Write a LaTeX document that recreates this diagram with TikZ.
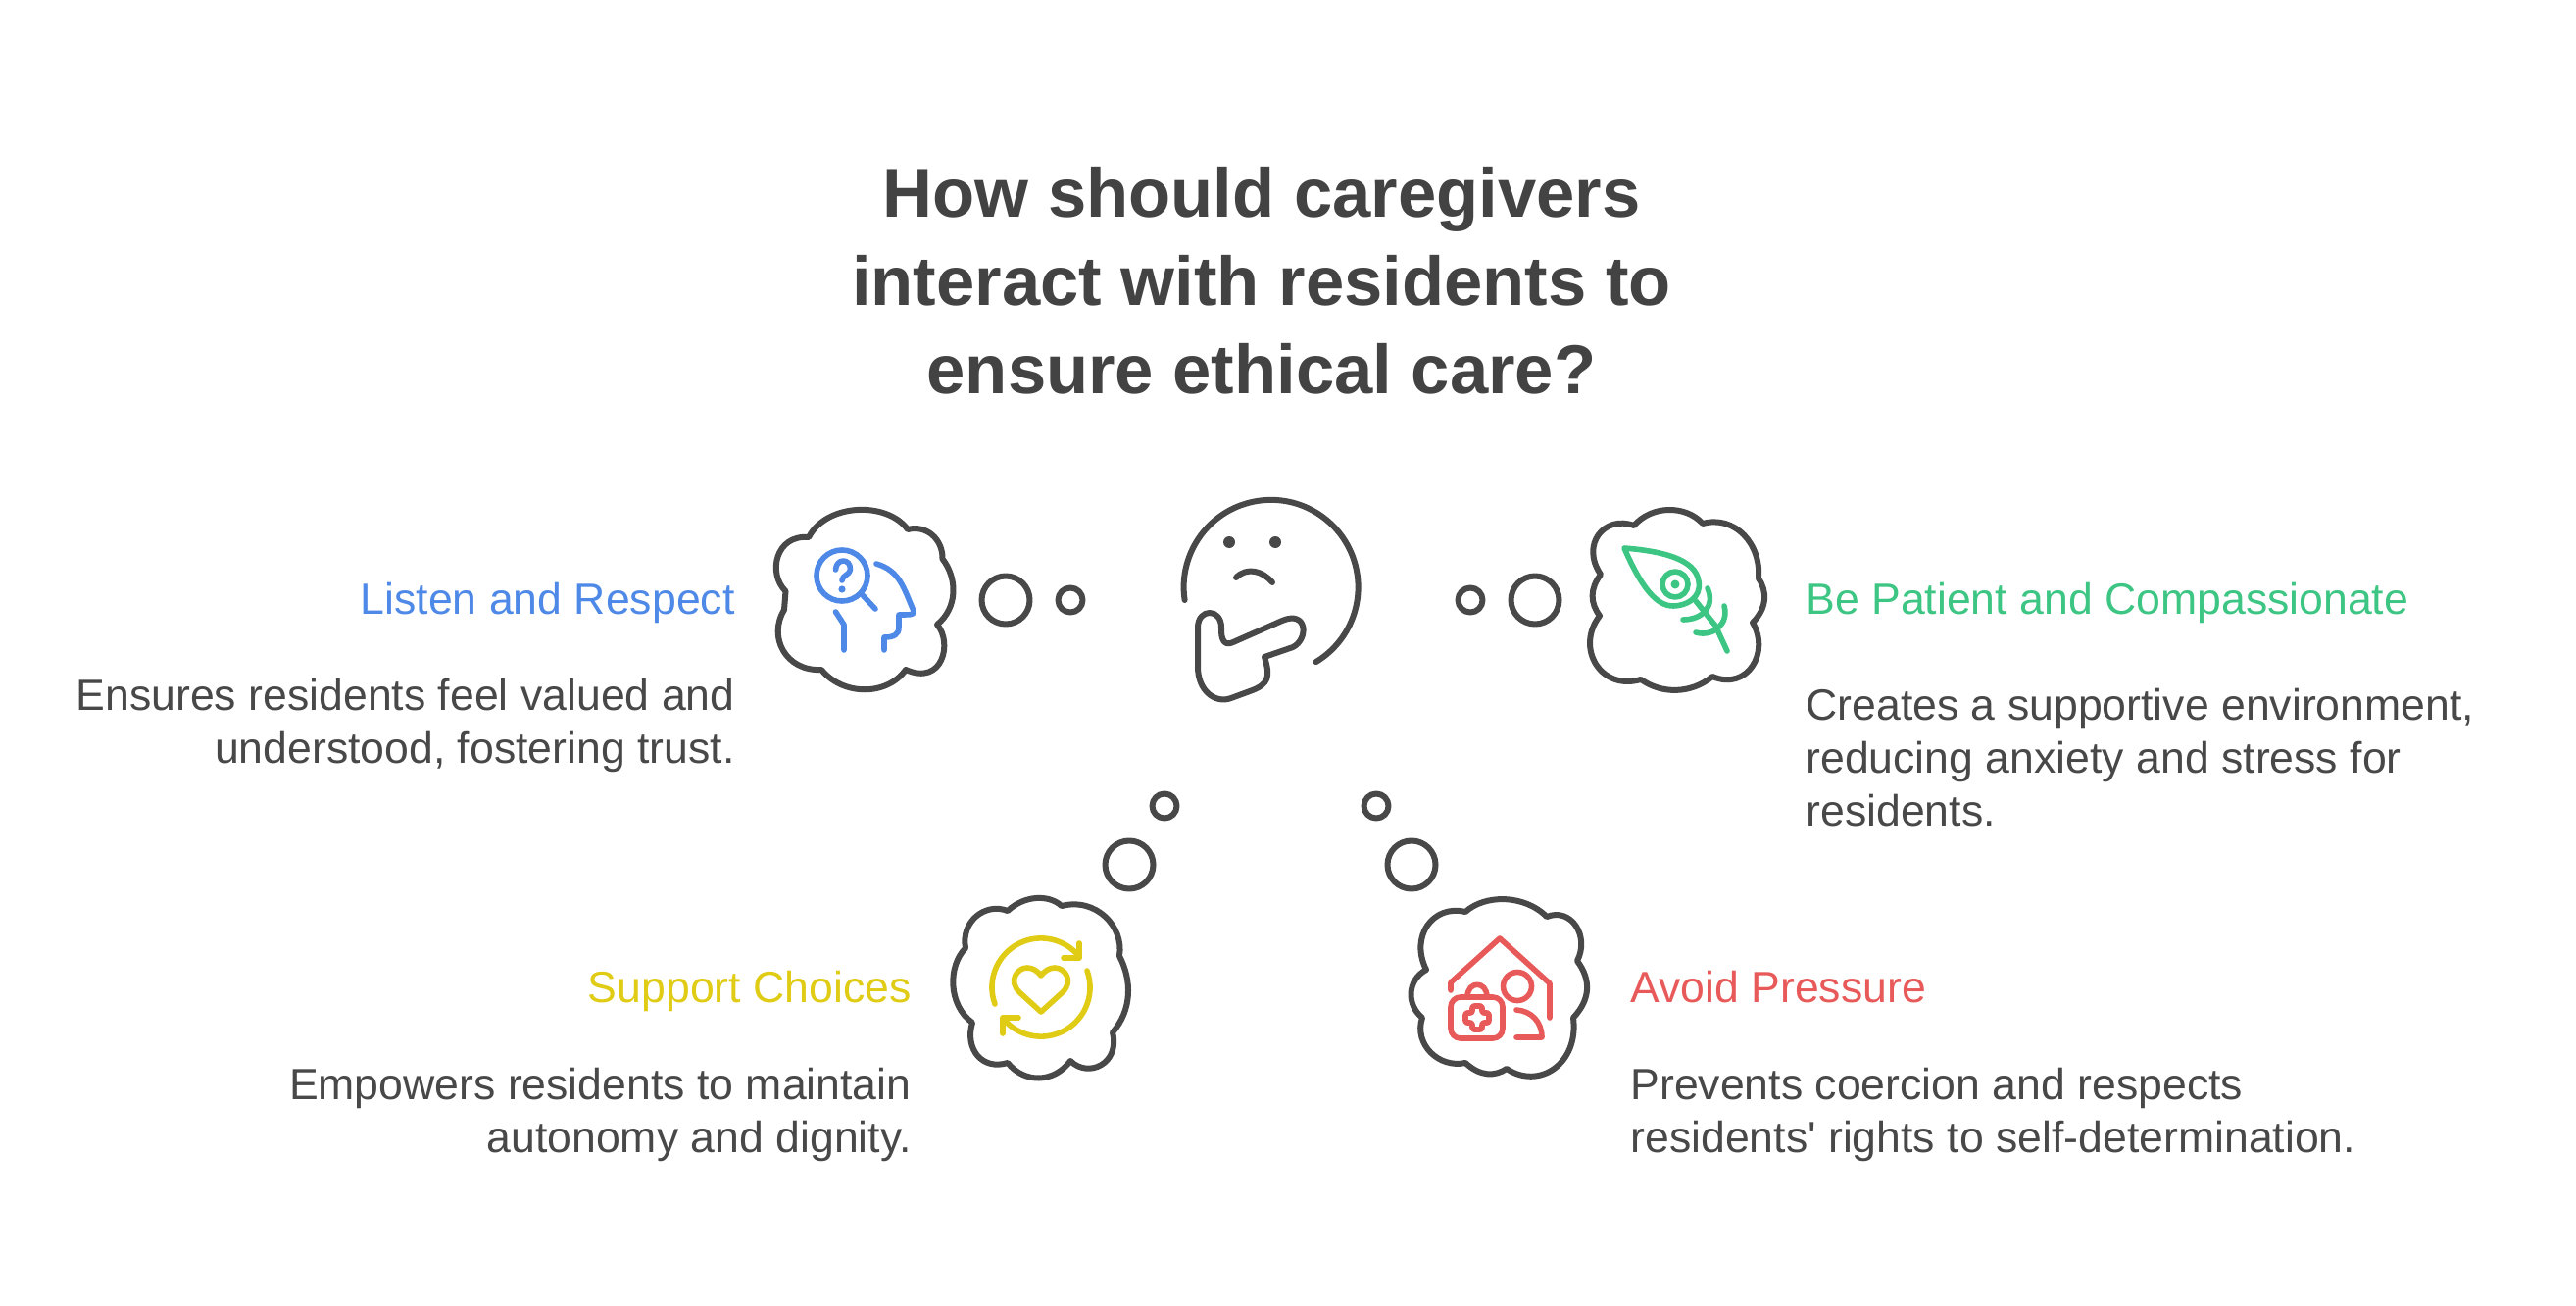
\documentclass[tikz,border=0pt]{standalone}
\usepackage{fontspec}
\setmainfont{Liberation Sans}[Ligatures=TeXOff]

\begin{document}
\begin{tikzpicture}[x=0.5pt,y=-0.5pt,
        outline/.style={line width=3pt,draw=darkgray,line join=round,line cap=round},
        iconline/.style={line width=2.8pt,line join=round,line cap=round},
        titletext/.style={align=center,inner sep=0pt,text=titlegray,font=\fontsize{35.3}{45}\selectfont\bfseries},
        headtext/.style={inner sep=0pt,font=\fontsize{22.3}{27}\selectfont},
        bodytext/.style={inner sep=0pt,text=darkgray,font=\fontsize{22.3}{27}\selectfont}]
        \definecolor{darkgray}{HTML}{484848}
        \definecolor{titlegray}{HTML}{434343}
        \definecolor{iconblue}{HTML}{4E89E8}
        \definecolor{icongreen}{HTML}{3CC583}
        \definecolor{iconyellow}{HTML}{E0CB15}
        \definecolor{iconred}{HTML}{E85A5A}

        \useasboundingbox (0,0) rectangle (2628,1332);

        \node[titletext,anchor=north] (title) at (1287,170) {How should caregivers\\interact with residents to\\ensure ethical care?};

        \node[headtext,anchor=base east,text=iconblue] (listenhead) at (750,626) {Listen and Respect};
        \node[bodytext,anchor=north east,align=right] (listenbody) at (750,692) {Ensures residents feel valued and\\understood, fostering trust.};
        \node[headtext,anchor=base west,text=icongreen] (patienthead) at (1842,626) {Be Patient and Compassionate};
        \node[bodytext,anchor=north west,align=left] (patientbody) at (1842,702) {Creates a supportive environment,\\reducing anxiety and stress for\\residents.};
        \node[headtext,anchor=base east,text=iconyellow] (supporthead) at (930,1022) {Support Choices};
        \node[bodytext,anchor=north east,align=right] (supportbody) at (930,1089) {Empowers residents to maintain\\autonomy and dignity.};
        \node[headtext,anchor=base west,text=iconred] (avoidhead) at (1663,1022) {Avoid Pressure};
        \node[bodytext,anchor=north west,align=left] (avoidbody) at (1663,1089) {Prevents coercion and respects\\residents' rights to self-determination.};

        %face
        \draw[outline] (1208.6,612) arc[start angle=188.5,end angle=-59,radius=44.5pt];
        \fill[darkgray] (1254,553) circle (3pt);
        \fill[darkgray] (1301,553) circle (3pt);
        \draw[outline] (1261,589) .. controls (1272,578) and (1288,582) .. (1298,594);
        \draw[outline] (1290,670) -- (1319,660) .. controls (1335,652) and (1334,622) .. (1308,633)
            -- (1258,655) .. controls (1248,660) and (1246,650) .. (1246,643) -- (1246,640)
            .. controls (1246,620) and (1222,620) .. (1222,640) -- (1222,680)
            .. controls (1222,705) and (1240,718) .. (1256,712) -- (1275,705)
            .. controls (1295,698) and (1296,690) .. (1290,670) -- cycle;

        %bubbles
        \draw[outline] (1026,612) circle (12.25pt);
        \draw[outline] (1092,612) circle (6.25pt);
        \draw[outline] (1500,612) circle (6.25pt);
        \draw[outline] (1566,612) circle (12.25pt);
        \draw[outline] (1188,822) circle (6.25pt);
        \draw[outline] (1152,882) circle (12.25pt);
        \draw[outline] (1404,822) circle (6.25pt);
        \draw[outline] (1440,882) circle (12.25pt);

        %clouds
        \draw[outline] (825,548) .. controls (843,513) and (905,511) .. (926,540)
            .. controls (945,535) and (962,550) .. (961.5,570)
            .. controls (977,590) and (977,620) .. (956,637)
            .. controls (972,655) and (962,700) .. (924,683)
            .. controls (905,710) and (860,710) .. (838,683)
            .. controls (802,685) and (783,650) .. (800,622)
            -- (801.5,603)
            .. controls (783,585) and (791,545) .. (825,548) -- cycle;
        \draw[outline] (1667,536) .. controls (1685,515) and (1720,515) .. (1737,534)
            .. controls (1770,525) and (1797,555) .. (1794,590)
            .. controls (1803,603) and (1803,620) .. (1788,635)
            .. controls (1806,665) and (1783,705) .. (1747,690)
            .. controls (1725,708) and (1695,708) .. (1674,693)
            .. controls (1632,705) and (1607,660) .. (1632,628)
            .. controls (1622,615) and (1622,600) .. (1633,586)
            .. controls (1612,555) and (1637,525) .. (1667,536) -- cycle;
        \draw[outline] (1028,929) .. controls (1045,913) and (1070,912) .. (1083,924)
            .. controls (1118,915) and (1147,945) .. (1142,975)
            .. controls (1155,1000) and (1155,1030) .. (1135,1053)
            .. controls (1143,1085) and (1110,1100) .. (1092,1082)
            .. controls (1075,1105) and (1045,1105) .. (1028,1084)
            .. controls (1002,1092) and (984,1070) .. (992,1043)
            .. controls (967,1025) and (967,985) .. (985,967)
            .. controls (980,940) and (1005,920) .. (1028,929) -- cycle;
        \draw[outline] (1495,930) .. controls (1515,912) and (1555,912) .. (1578,935)
            .. controls (1603,925) and (1622,955) .. (1609,980)
            .. controls (1624,1000) and (1622,1020) .. (1605,1038)
            .. controls (1611,1085) and (1570,1112) .. (1537,1090)
            .. controls (1525,1098) and (1510,1098) .. (1495,1084)
            .. controls (1468,1090) and (1442,1065) .. (1451,1038)
            .. controls (1435,1025) and (1435,1000) .. (1455,989)
            .. controls (1438,955) and (1462,922) .. (1495,930) -- cycle;

        %blue icon
        \begin{scope}[iconline,draw=iconblue]
            \draw (859,587) circle (13pt);
            \draw (880,607) -- (893,621);
            \draw (852.5,581) .. controls (853,569) and (868,569) .. (867.5,581)
                .. controls (867,586) and (859,587) .. (859,592);
            \fill[iconblue] (859,601) circle (1.8pt);
            \draw (894,575) .. controls (918,582) and (922,600) .. (932,623)
                .. controls (933,627) and (930,627) .. (917,627) -- (917,640)
                .. controls (917,647) and (912,650) .. (902,650) -- (902,663);
            \draw (852.5,624) -- (861,637) -- (861,663);
        \end{scope}

        %green icon
        \begin{scope}[iconline,draw=icongreen]
            \draw (1657,559) .. controls (1695,562) and (1730,570) .. (1733,593)
                .. controls (1736,610) and (1720,618) .. (1707,618)
                .. controls (1690,618) and (1675,600) .. (1657,559) -- cycle;
            \draw (1709,596) circle (6.5pt);
            \fill[icongreen] (1709,596) circle (2.25pt);
            \draw (1730,613) -- (1750,638) -- (1762,664);
            \draw (1742,600) .. controls (1750,618) and (1737,632) .. (1717,632);
            \draw (1759,618) .. controls (1764,636) and (1748,650) .. (1730,645);
        \end{scope}

        %yellow icon
        \begin{scope}[iconline,draw=iconyellow]
            \draw (1015,1024) arc[start angle=200,end angle=40,radius=25pt];
            \draw (1109,990) arc[start angle=20,end angle=-140,radius=25pt];
            \draw (1101,962) -- (1101,977) -- (1085,977);
            \draw (1039,1038) -- (1023,1038) -- (1023,1054);
            \draw (1062,1032) -- (1040,1012) .. controls (1028,1000) and (1038,987) .. (1048,987)
                .. controls (1054,987) and (1059,991) .. (1062,995)
                .. controls (1065,991) and (1070,987) .. (1076,987)
                .. controls (1086,987) and (1096,1000) .. (1084,1012) -- cycle;
        \end{scope}

        %red icon
        \begin{scope}[iconline,draw=iconred]
            \draw (1480,1010) -- (1480,1002) -- (1530,957) -- (1581,1003) -- (1581,1038);
            \draw (1548,1006) circle (7.25pt);
            \draw (1547,1030) .. controls (1562,1031) and (1573,1042) .. (1573,1058) -- (1547,1058);
            \draw[rounded corners=5pt] (1480,1017) rectangle (1533,1059);
            \draw (1497,1017) .. controls (1497,1000) and (1517,1000) .. (1517,1017);
            \draw[rounded corners=1pt] (1502,1026) -- (1512,1026) -- (1512,1033) -- (1519,1033) -- (1519,1043)
                -- (1512,1043) -- (1512,1050) -- (1502,1050) -- (1502,1043) -- (1495,1043)
                -- (1495,1033) -- (1502,1033) -- cycle;
        \end{scope}
    \end{tikzpicture}
\end{document}
